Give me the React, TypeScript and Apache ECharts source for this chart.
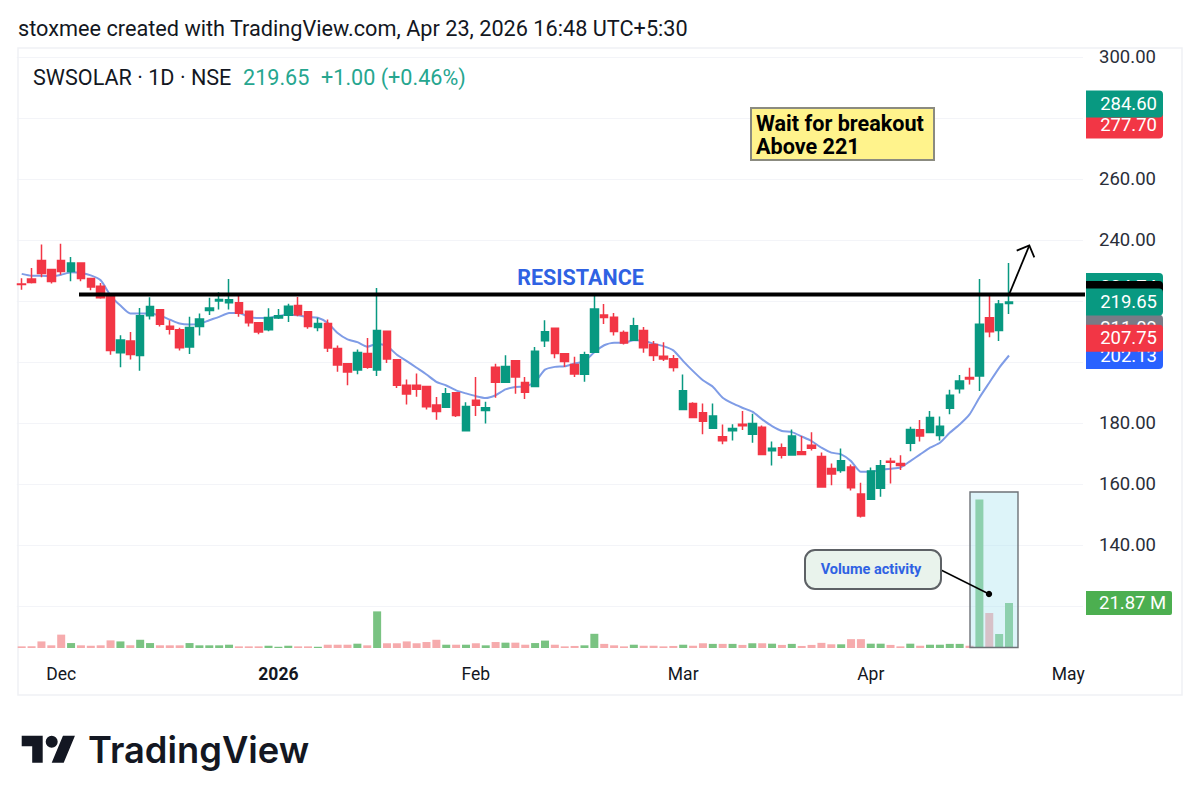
import { useEffect, useRef } from 'react'
import * as echarts from 'echarts'

// trading days, the last few are the empty room on the right of the chart
const days = [
  '2025-11-25', '2025-11-26', '2025-11-27', '2025-11-28',
  '2025-12-01', '2025-12-02', '2025-12-03', '2025-12-04', '2025-12-05',
  '2025-12-08', '2025-12-09', '2025-12-10', '2025-12-11', '2025-12-12',
  '2025-12-15', '2025-12-16', '2025-12-17', '2025-12-18', '2025-12-19',
  '2025-12-22', '2025-12-23', '2025-12-24', '2025-12-26',
  '2025-12-29', '2025-12-30', '2025-12-31', '2026-01-01', '2026-01-02',
  '2026-01-05', '2026-01-06', '2026-01-07', '2026-01-08', '2026-01-09',
  '2026-01-12', '2026-01-13', '2026-01-14', '2026-01-16',
  '2026-01-19', '2026-01-20', '2026-01-21', '2026-01-22', '2026-01-23',
  '2026-01-27', '2026-01-28', '2026-01-29', '2026-01-30', '2026-02-01',
  '2026-02-02', '2026-02-03', '2026-02-04', '2026-02-05', '2026-02-06',
  '2026-02-09', '2026-02-10', '2026-02-11', '2026-02-12', '2026-02-13',
  '2026-02-16', '2026-02-17', '2026-02-18', '2026-02-19', '2026-02-20',
  '2026-02-23', '2026-02-24', '2026-02-25', '2026-02-26', '2026-02-27',
  '2026-03-02', '2026-03-04', '2026-03-05', '2026-03-06',
  '2026-03-09', '2026-03-10', '2026-03-11', '2026-03-12', '2026-03-13',
  '2026-03-16', '2026-03-17', '2026-03-18', '2026-03-19', '2026-03-20',
  '2026-03-23', '2026-03-24', '2026-03-25', '2026-03-27', '2026-03-30',
  '2026-04-01', '2026-04-02',
  '2026-04-06', '2026-04-07', '2026-04-08', '2026-04-09', '2026-04-10',
  '2026-04-13', '2026-04-15', '2026-04-16', '2026-04-17',
  '2026-04-20', '2026-04-21', '2026-04-22', '2026-04-23',
  '2026-04-24', '2026-04-27', '2026-04-28', '2026-04-29', '2026-04-30',
  '2026-05-01', '2026-05-04',
]

const timeLabels: Record<string, string> = {
  '2025-12-01': 'Dec',
  '2026-01-01': '2026',
  '2026-02-01': 'Feb',
  '2026-03-02': 'Mar',
  '2026-04-01': 'Apr',
  '2026-05-01': 'May',
}

const opens = [
  225.6, 227.2, 233.3, 230.3, 233.3, 229.7, 232.5, 227.4, 224.8, 221.5,
  203, 206.9, 202.1, 215.2, 217.1, 211.7, 210.6, 204.9, 211.6, 216.9,
  220, 219.4, 219.4, 216.6, 212.9, 210.6, 214.4, 215.3, 218.5, 216.5,
  211.3, 212.6, 204.4, 199.4, 197.4, 202.8, 197.4, 210.1, 200.7, 192.4,
  192.4, 192, 185.9, 185.2, 189.9, 177.5, 187.5, 184.1, 198.3, 193.4,
  200.4, 193.3, 192, 207, 211.1, 202.7, 199.2, 196, 203.2, 215.4,
  214.7, 209.7, 207.1, 210.3, 205.7, 201.9, 201.1, 184.4, 186.4, 183.4,
  178.3, 175.5, 177.5, 179.6, 176.3, 178.6, 170.9, 171.9, 169.5, 170.6,
  172.7, 169, 165.1, 164.4, 165.6, 156.7, 155, 158.6, 167.5, 166.7,
  173.4, 177.8, 176.9, 175.9, 184.8, 191.2, 194.9, 195.4, 214.5, 210.3,
  219.2,
]
const closes = [
  225.4, 226.1, 229, 226.4, 229.7, 232.5, 227.4, 224.6, 221.1, 203.8,
  207.2, 202.5, 215.2, 218.2, 212.4, 210.7, 204.7, 211.3, 214.1, 217.7,
  220.5, 220.4, 216, 212.9, 209.8, 214.6, 215.2, 218.3, 215.5, 211.6,
  212.6, 204.6, 199, 196.7, 203.1, 198.3, 210.3, 201, 192.4, 189.5,
  191.1, 185.3, 183.8, 189.6, 182.5, 185.4, 185.8, 185, 193.4, 198.5,
  195.1, 190.1, 203.5, 209.9, 202.8, 200.2, 196.1, 202.4, 217.4, 214.6,
  210, 206.2, 211.9, 204.7, 202.1, 201, 198.2, 190.6, 181.8, 180.6,
  182.3, 174.2, 178.2, 179.1, 179.8, 169.7, 171.7, 169.4, 175.7, 169.7,
  171.7, 159, 163.3, 167.6, 158.8, 149.5, 164.3, 166, 167.1, 166.1,
  177.9, 175.7, 181.8, 178.9, 189.1, 193.8, 194.4, 212.4, 209.9, 219,
  219.65,
]
const lows = [
  223.7, 225.7, 227.8, 225.7, 228.6, 226.5, 226.5, 223.5, 220.7, 202.4,
  198.3, 200.8, 197.1, 213.9, 211.6, 209, 203.8, 202.6, 208.7, 215.4,
  217.2, 217.2, 214.8, 211.6, 209.1, 210.1, 214.1, 213.1, 215, 210.9,
  210.1, 203.3, 196.8, 192.4, 196, 197.8, 195.4, 199.7, 191.5, 186.1,
  188.6, 184.4, 181.1, 185.2, 182, 177.2, 182.3, 179.8, 188.3, 193.4,
  189.6, 187.9, 192, 204.9, 201.2, 198.4, 195.1, 193.5, 203.2, 212.5,
  208.7, 205.7, 207.1, 203, 200.3, 200.3, 196.9, 184.4, 181.6, 176.3,
  178.3, 173, 174.3, 177.7, 173.5, 169.5, 166.1, 168.4, 169.5, 169.7,
  171, 158.8, 159.6, 163.7, 157.9, 149, 154.8, 155.8, 160.2, 164.6,
  170.7, 173.9, 176.9, 174.3, 182.9, 189.7, 192.6, 190.5, 208.1, 206.9,
  215.7,
]
const highs = [
  227.5, 230.8, 238.5, 230.5, 238.8, 234.4, 232.5, 227.4, 225.9, 222,
  208.8, 209.8, 217.7, 221.2, 217.4, 213.7, 211.2, 214.8, 215.9, 221.1,
  222.9, 227.2, 221.6, 216.9, 212.9, 217.6, 217.4, 219.1, 221.3, 216.5,
  214.5, 213.9, 205.4, 199.4, 204.1, 207.9, 224.3, 210.1, 200.7, 194.3,
  196.2, 192, 188.5, 191.5, 189.9, 186.8, 195.1, 187, 199.4, 202.2,
  200.4, 195.1, 204.9, 213.7, 211.1, 202.7, 201.7, 203.4, 222.4, 219,
  216.1, 210.3, 214.5, 211.5, 206.9, 206.5, 202.3, 195.9, 186.8, 186.4,
  186.4, 179.5, 179.6, 183.9, 183, 179.2, 173.9, 173.3, 177.9, 175.7,
  177, 170.3, 166.7, 171.6, 166.4, 160.4, 165.4, 167.9, 168.6, 169.4,
  178.8, 181, 183.9, 182.1, 190.9, 195.7, 198.1, 227.2, 221.9, 220.3,
  232.5,
]
const ma = [
  228.9, 228.3, 228.3, 228.1, 228.6, 229.4, 229.2, 228.4, 226.8, 221.8,
  218.5, 215.9, 215.9, 215.9, 215.2, 213.9, 212.6, 212.3, 212.5, 213.7,
  214.8, 216.1, 216.1, 214.8, 214.4, 214.4, 215.1, 215.5, 215.3, 214.7,
  214.5, 212.8, 209.5, 207.4, 206.5, 205, 206, 205.2, 202.4, 200.3,
  198.1, 195.9, 193.5, 192.3, 190.7, 189.7, 188.8, 188.2, 189.1, 191,
  191.8, 191.9, 193.5, 197.5, 198.4, 198.6, 199.5, 200.3, 203.2, 205.5,
  206.3, 206.3, 207.1, 207, 206, 205.2, 203.8, 200.3, 197, 194,
  191.9, 188.3, 186.4, 185, 183.7, 181.2, 179, 177.4, 177, 175.6,
  174.1, 171.9, 170.3, 169.7, 167.5, 164, 164, 164.6, 165, 165.4,
  167.5, 169.7, 171.9, 173.5, 176.8, 179.5, 182.8, 188.3, 193.2, 198.1,
  202.13,
]
// in millions
const volumes = [
  0.8, 0.8, 3.2, 1.3, 6.5, 2.4, 1.3, 1.1, 1.3, 3.7,
  3.2, 1.3, 4, 2.4, 1.3, 1.3, 1.3, 2.4, 1.3, 1.3,
  1.3, 1.6, 0.8, 0.8, 0.8, 1.1, 0.6, 1.1, 0.8, 0.8,
  0.6, 1.6, 1.6, 1.6, 2.1, 1.3, 17.8, 2.3, 2.3, 3.2,
  2.3, 2.9, 4, 1.6, 1.6, 1.6, 2.3, 1.3, 2.9, 2.6,
  2.6, 1.6, 2.4, 3.6, 1.6, 0.8, 1, 1.3, 6.9, 2,
  1.3, 0.8, 1.6, 1.1, 1.1, 0.8, 1, 1.6, 1.1, 2.3,
  2, 2, 2, 1.5, 2.3, 2.3, 2.1, 1.5, 2, 1,
  1.5, 2.5, 1.8, 1.8, 4.3, 4.3, 2.1, 2.1, 1.5, 0.8,
  2.1, 1.1, 1.6, 1.6, 2, 2, 1.1, 72.2, 17, 6.8,
  21.87,
]
const priceTicks = [140, 160, 180, 200, 220, 240, 260, 280, 300]

const resistance = 222.1
const UP = '#089981'
const DOWN = '#f23645'
const FONT = 'Roboto, sans-serif'

// drawn bottom to top, later tags cover the ones before them
const priceTags = [
  { value: 277.7, color: DOWN },
  { value: 284.6, color: UP },
  { value: 224.74, color: UP },
  { value: resistance, color: '#000000', noText: true },
  { value: 202.13, color: '#2962ff' },
  { value: 211.09, color: '#787b86' },
  { value: 219.65, color: UP },
  { value: 207.75, color: DOWN },
]

echarts.graphic.registerShape(
  'tvLogo',
  echarts.graphic.extendPath(
    'M14 22H7V11H0V4h14v18zM28 22h-8l7.5-18h8L28 22zM24 8a4 4 0 1 1-8 0 4 4 0 0 1 8 0z',
    {},
  ),
)

const label = (text: string, x: number, y: number, font: string, fill: string, z = 30, align = 'left') => ({
  type: 'text',
  z,
  x,
  y,
  style: {
    text,
    font,
    fill,
    align,
    textAlign: align,
    verticalAlign: 'middle',
    textVerticalAlign: 'middle',
  },
})

const App = () => {
  const chartRef = useRef<HTMLDivElement>(null)

  useEffect(() => {
    if (!chartRef.current) return
    const chart = echarts.init(chartRef.current, undefined, { renderer: 'svg' })

    chart.setOption({
      animation: false,
      backgroundColor: '#fff',
      grid: [
        { left: 16.76, width: 1066.3, top: 57, height: 549 },
        { left: 16.76, width: 1066.3, top: 490, height: 158 },
      ],
      xAxis: [
        { type: 'category', gridIndex: 0, data: days, show: false },
        {
          type: 'category',
          gridIndex: 1,
          data: days,
          axisLine: { show: false },
          axisTick: { show: false },
          axisLabel: {
            interval: (_: number, v: string) => v in timeLabels,
            formatter: (v: string) => (v === '2026-01-01' ? '{year|2026}' : timeLabels[v] ?? ''),
            margin: 17,
            fontFamily: FONT,
            fontSize: 17.5,
            color: '#131722',
            rich: { year: { fontFamily: FONT, fontSize: 17.5, fontWeight: 'bold', color: '#131722' } },
          },
        },
      ],
      yAxis: [
        {
          type: 'value',
          gridIndex: 0,
          position: 'right',
          min: 120,
          max: 300,
          interval: 20,
          axisLine: { show: false },
          axisTick: { show: false },
          splitLine: { lineStyle: { color: '#f3f4f8', width: 1 } },
          axisLabel: {
            margin: 16,
            fontFamily: FONT,
            fontSize: 18.5,
            color: '#2a2e39',
            formatter: (v: number) => (priceTicks.includes(v) ? v.toFixed(2) : ''),
          },
        },
        { type: 'value', gridIndex: 1, min: 0, max: 76.8, show: false },
      ],
      series: [
        {
          name: 'MA',
          type: 'line',
          xAxisIndex: 0,
          yAxisIndex: 0,
          z: 1,
          data: ma,
          symbol: 'none',
          smooth: 0.2,
          lineStyle: { color: '#7f9ce6', width: 2 },
        },
        {
          name: 'SWSOLAR',
          type: 'candlestick',
          xAxisIndex: 0,
          yAxisIndex: 0,
          z: 2,
          barWidth: 8,
          data: opens.map((o, i) => [o, closes[i], lows[i], highs[i]]),
          itemStyle: {
            color: UP,
            color0: DOWN,
            borderColor: UP,
            borderColor0: DOWN,
            borderWidth: 1.5,
          },
        },
        {
          name: 'Volume',
          type: 'bar',
          xAxisIndex: 1,
          yAxisIndex: 1,
          barWidth: 8,
          data: volumes.map((v, i) => ({
            value: v,
            itemStyle: { color: closes[i] >= opens[i] ? '#7ac382' : '#f6abad' },
          })),
        },
      ],
    })

    // overlays that sit on the axis scales
    const priceY = (p: number) => chart.convertToPixel({ yAxisIndex: 0 }, p) as number
    const volY = (v: number) => chart.convertToPixel({ yAxisIndex: 1 }, v) as number
    const tagLeft = 1086
    const tagWidth = 77
    const tagHeight = 27

    const tags = priceTags.flatMap((t, i) => {
      const y = priceY(t.value)
      return [
        {
          type: 'rect',
          z: 40 + i * 2,
          shape: { x: tagLeft, y: y - tagHeight / 2, width: tagWidth, height: tagHeight, r: [0, 4, 4, 0] },
          style: { fill: t.color },
        },
        ...(t.noText
          ? []
          : [label(t.value.toFixed(2), tagLeft + 71, y, `18.5px ${FONT}`, '#ffffff', 41 + i * 2, 'right')]),
      ]
    })

    const volTagY = volY(volumes[volumes.length - 1])

    chart.setOption({
      graphic: [
        label('stoxmee created with TradingView.com, Apr 23, 2026 16:48 UTC+5:30', 18, 28, `21.7px ${FONT}`, '#131722'),
        {
          type: 'rect',
          z: 0,
          shape: { x: 18, y: 48, width: 1164, height: 647 },
          style: { fill: 'none', stroke: '#f0f1f5', lineWidth: 1.5 },
        },
        label('SWSOLAR · 1D · NSE', 33, 77, `21.6px ${FONT}`, '#131722'),
        label('219.65', 243, 77, `21.6px ${FONT}`, '#26a68f'),
        label('+1.00 (+0.46%)', 321, 77, `21.6px ${FONT}`, '#26a68f'),

        // resistance
        {
          type: 'line',
          z: 20,
          shape: { x1: 79, y1: priceY(resistance), x2: 1085, y2: priceY(resistance) },
          style: { stroke: '#000000', lineWidth: 4 },
        },
        label('RESISTANCE', 580.5, 277, `bold 21.5px ${FONT}`, '#2f62e3', 30, 'center'),

        // note box
        {
          type: 'rect',
          z: 25,
          shape: { x: 751, y: 108, width: 183, height: 52 },
          style: { fill: '#fff38c', stroke: '#8b8b80', lineWidth: 2 },
        },
        label('Wait for breakout', 756, 123, `bold 21.6px ${FONT}`, '#000000'),
        label('Above 221', 756, 146, `bold 21.6px ${FONT}`, '#000000'),

        // breakout arrow
        {
          type: 'polyline',
          z: 26,
          shape: { points: [[1009.3, 294], [1029.3, 245.5]] },
          style: { stroke: '#000000', lineWidth: 1.8, fill: 'none' },
        },
        {
          type: 'polyline',
          z: 26,
          shape: { points: [[1016.7, 250.7], [1029.3, 245.5], [1034.3, 257.3]] },
          style: { stroke: '#000000', lineWidth: 1.8, fill: 'none' },
        },

        // volume highlight
        {
          type: 'rect',
          z: 25,
          shape: { x: 970, y: 492, width: 48, height: 155.5 },
          style: { fill: 'rgba(170, 228, 240, 0.4)', stroke: '#6e7277', lineWidth: 1.4 },
        },
        {
          type: 'line',
          z: 26,
          shape: { x1: 941, y1: 570, x2: 989, y2: 594 },
          style: { stroke: '#000000', lineWidth: 1.5 },
        },
        { type: 'circle', z: 26, shape: { cx: 989, cy: 594, r: 3.2 }, style: { fill: '#000000' } },
        {
          type: 'rect',
          z: 27,
          shape: { x: 805, y: 550, width: 136, height: 39, r: 10 },
          style: { fill: '#e9f3ec', stroke: '#5d6165', lineWidth: 2 },
        },
        label('Volume activity', 871, 569, `bold 14.5px ${FONT}`, '#2f62e3', 28, 'center'),

        // axis tags
        ...tags,
        {
          type: 'rect',
          z: 40,
          shape: { x: tagLeft, y: volTagY - 12, width: 86, height: 24, r: [0, 2, 2, 0] },
          style: { fill: '#4caf50' },
        },
        label('21.87 M', 1099, volTagY, `18.5px ${FONT}`, '#ffffff', 41),

        // logo
        { type: 'tvLogo', z: 30, x: 21.7, y: 729.7, scaleX: 1.5, scaleY: 1.5, style: { fill: '#131722' } },
        label('TradingView', 88, 750, `600 36.3px Inter, ${FONT}`, '#131722'),
      ],
    })

    return () => {
      chart.dispose()
    }
  }, [])

  return <div ref={chartRef} style={{ position: 'fixed', left: 0, top: 0, width: 1200, height: 805, background: '#fff' }} />
}

export default App
